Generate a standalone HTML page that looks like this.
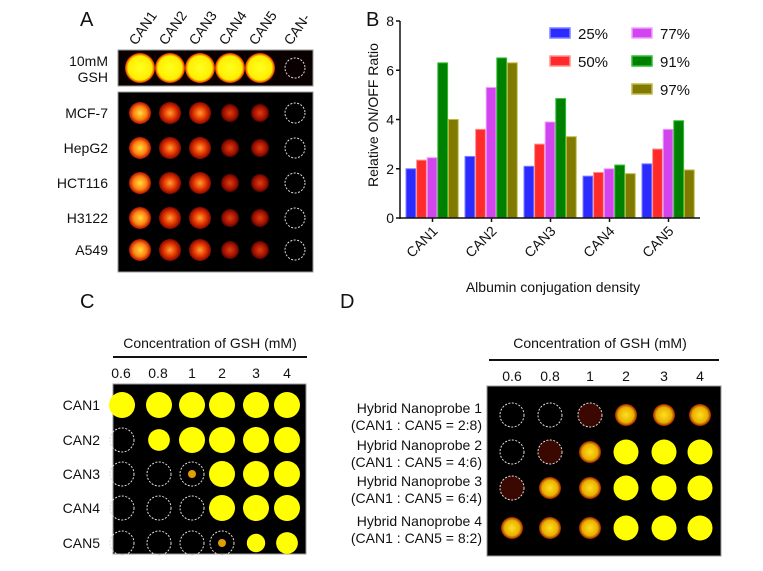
<!DOCTYPE html>
<html><head><meta charset="utf-8"><style>
body{margin:0;background:#fff;width:763px;height:566px;overflow:hidden}
svg text{font-family:"Liberation Sans",Arial,sans-serif;fill:#111}
</style></head><body>
<svg id="fig" width="763" height="566" viewBox="0 0 763 566" xmlns="http://www.w3.org/2000/svg">
<defs>
<radialGradient id="gy"><stop offset="0" stop-color="#ffff20"/><stop offset="0.8" stop-color="#ffee00"/><stop offset="1" stop-color="#e02000"/></radialGradient>
<radialGradient id="gh1"><stop offset="0" stop-color="#ffe040"/><stop offset="0.6" stop-color="#ff8010"/><stop offset="1" stop-color="#b01000"/></radialGradient>
<radialGradient id="gh2"><stop offset="0" stop-color="#ffa030"/><stop offset="0.6" stop-color="#e03000"/><stop offset="1" stop-color="#800800"/></radialGradient>
<radialGradient id="gh3"><stop offset="0" stop-color="#e04010"/><stop offset="0.7" stop-color="#a01000"/><stop offset="1" stop-color="#500400"/></radialGradient>
<radialGradient id="gs"><stop offset="0" stop-color="#ffe020"/><stop offset="0.7" stop-color="#e8b000"/><stop offset="1" stop-color="#a02000"/></radialGradient>
</defs>
<g id="panelA"></g>
<g id="panelB"></g>
<g id="panelC"></g>
<g id="panelD"></g>
</svg>
<script>
const categories = ["CAN1","CAN2","CAN3","CAN4","CAN5"];
const seriesNames = ["25%","50%","77%","91%","97%"];
const s25 = [2.0,2.5,2.1,1.7,2.2];
const s50 = [2.35,3.6,3.0,1.85,2.8];
const s77 = [2.45,5.3,3.9,2.0,3.6];
const s91 = [6.3,6.5,4.85,2.15,3.95];
const s97 = [4.0,6.3,3.3,1.8,1.95];
const yTicks = [0,2,4,6,8];

const NS="http://www.w3.org/2000/svg";
function mk(p,tag,at,txt){const e=document.createElementNS(NS,tag);for(const k in at)e.setAttribute(k,at[k]);if(txt!==undefined)e.textContent=txt;p.appendChild(e);return e;}

// ---------- Panel B ----------
const B=document.getElementById('panelB');
const x0=400,x1=700,yb=218,yt=21;
const yS=v=>yb-(v/8)*(yb-yt);
const groupW=59, barW=10.6, gStart=406;
const colors=["#2b2bff","#ff2a2a","#d244ee","#008000","#807a00"];
const strokes=["#8080ff","#ff9090","#f0a0ff","#30c030","#c0b840"];
const series=[s25,s50,s77,s91,s97];
let t=mk(B,'text',{x:366,y:26,'font-size':20},'B');


series.forEach((s,si)=>{s.forEach((v,ci)=>{
 const x=gStart+ci*groupW+si*barW;
 const r=mk(B,'rect',{x:x,y:yS(v),width:barW-0.8,height:yb-yS(v),fill:colors[si],stroke:strokes[si],'stroke-width':1});
 
 
});});
let ax=mk(B,'line',{x1:x0,y1:yt,x2:x0,y2:yb+1,stroke:'#111','stroke-width':1.5});


ax=mk(B,'line',{x1:x0,y1:yb,x2:x1,y2:yb,stroke:'#111','stroke-width':1.5});


yTicks.forEach(v=>{
 mk(B,'line',{x1:x0-4,y1:yS(v),x2:x0,y2:yS(v),stroke:'#111','stroke-width':1.5});
 const tl=mk(B,'text',{x:x0-6,y:yS(v)+5,'font-size':14,'text-anchor':'end'},String(v));
 
 
});
categories.forEach((c,ci)=>{
 const cx=gStart+ci*groupW+2.5*barW;
 mk(B,'line',{x1:cx,y1:yb,x2:cx,y2:yb+4,stroke:'#111','stroke-width':1.5});
 const tl=mk(B,'text',{x:cx+6,y:yb+14,'font-size':14,'text-anchor':'end',transform:`rotate(-45 ${cx+6} ${yb+14})`},c);
 
 
});
t=mk(B,'text',{x:378,y:115,'font-size':14,'text-anchor':'middle',transform:'rotate(-90 378 115)'},'Relative ON/OFF Ratio');


t=mk(B,'text',{x:553,y:292,'font-size':14,'text-anchor':'middle'},'Albumin conjugation density');


const legPos=[[550,33],[550,61],[632,33],[632,61],[632,89]];
seriesNames.forEach((n,i)=>{
 const g=mk(B,'g',{});
 
 
 mk(g,'rect',{x:legPos[i][0],y:legPos[i][1]-5,width:20,height:10,fill:colors[i],stroke:strokes[i],'stroke-width':1.5});
 mk(g,'text',{x:legPos[i][0]+28,y:legPos[i][1]+6,'font-size':15},n);
});

// ---------- Panel A ----------
const A=document.getElementById('panelA');
t=mk(A,'text',{x:80,y:26,'font-size':20},'A');


const colX=[140,170,200,230,260,295];
const colA=["CAN1","CAN2","CAN3","CAN4","CAN5","CAN-"];
colA.forEach((c,i)=>{const tl=mk(A,'text',{x:colX[i]-4,y:46,'font-size':14,transform:`rotate(-55 ${colX[i]-4} 46)`},c);
 
 });
let im=mk(A,'rect',{x:118,y:50,width:195,height:36,fill:'#0a0000',stroke:'#999'});


for(let i=0;i<5;i++) mk(A,'circle',{cx:colX[i],cy:68,r:15,fill:'url(#gy)'});
mk(A,'circle',{cx:295,cy:68,r:10,fill:'none',stroke:'#ddd','stroke-dasharray':'2 1.5'});
t=mk(A,'text',{x:108,y:66,'font-size':14,'text-anchor':'end'},'10mM');
t=mk(A,'text',{x:108,y:82,'font-size':14,'text-anchor':'end'},'GSH');
im=mk(A,'rect',{x:118,y:92,width:195,height:180,fill:'#000',stroke:'#999'});


const rowsA=["MCF-7","HepG2","HCT116","H3122","A549"];
const rowY=[113,148,183,218,250];
const grads=["gh1","gh2","gh2","gh3","gh3"];
rowsA.forEach((r,ri)=>{
 const tl=mk(A,'text',{x:108,y:rowY[ri]+5,'font-size':14,'text-anchor':'end'},r);
 
 
 for(let i=0;i<5;i++) mk(A,'circle',{cx:colX[i],cy:rowY[ri],r:i<3?11:9,fill:'url(#'+grads[i]+')'});
 mk(A,'circle',{cx:295,cy:rowY[ri],r:10,fill:'none',stroke:'#ddd','stroke-dasharray':'2 1.5'});
});

// ---------- Panel C ----------
const C=document.getElementById('panelC');
t=mk(C,'text',{x:80,y:308,'font-size':20},'C');


mk(C,'text',{x:210,y:348,'font-size':14,'text-anchor':'middle'},'Concentration of GSH (mM)');
mk(C,'line',{x1:113,y1:357,x2:307,y2:357,stroke:'#111','stroke-width':2});
const conc=["0.6","0.8","1","2","3","4"];
const cX=[125,162,192,222,256,287];
const dX=[512,550,590,626,664,700];
conc.forEach((c,i)=>{mk(C,'text',{x:cX[i]+(i<2?-4:0),y:378,'font-size':14,'text-anchor':'middle'},c);});
im=mk(C,'rect',{x:113,y:384,width:193,height:170,fill:'#000',stroke:'#999'});


const cY=[405,440,474,508,543];
const cOn=[[1,1,1,1,1,1],[0,0.7,1,1,1,1],[0,0,0.3,1,1,1],[0,0,0,1,1,1],[0,0,0,0.2,0.5,0.7]];
["CAN1","CAN2","CAN3","CAN4","CAN5"].forEach((r,ri)=>{
 const tl=mk(C,'text',{x:100,y:cY[ri]+5,'font-size':14,'text-anchor':'end'},r);
 
 
 cOn[ri].forEach((v,i)=>{
  const x=cX[i]+(i<2?-3:0);
  if(v>=0.5) mk(C,'circle',{cx:x,cy:cY[ri],r:13*Math.sqrt(v),fill:'#ffff00'});
  else{ mk(C,'circle',{cx:x,cy:cY[ri],r:12,fill:'none',stroke:'#ddd','stroke-dasharray':'2 1.5'});
   if(v>0) mk(C,'circle',{cx:x,cy:cY[ri],r:4,fill:'#e0a000'});}
 });
});

// ---------- Panel D ----------
const D=document.getElementById('panelD');
t=mk(D,'text',{x:340,y:308,'font-size':20},'D');


mk(D,'text',{x:600,y:348,'font-size':14,'text-anchor':'middle'},'Concentration of GSH (mM)');
mk(D,'line',{x1:489,y1:360,x2:719,y2:360,stroke:'#111','stroke-width':2});
conc.forEach((c,i)=>{mk(D,'text',{x:dX[i],y:381,'font-size':14,'text-anchor':'middle'},c);});
im=mk(D,'rect',{x:487,y:386,width:234,height:170,fill:'#000',stroke:'#999'});


const dY=[415,452,488,528];
const dOn=[[0,0,0.1,0.8,0.7,0.7],[0,0.1,0.6,1,1,1],[0.2,0.6,0.8,1,1,1],[0.7,0.6,0.8,1,1,1]];
const dLab=[["Hybrid Nanoprobe 1","(CAN1 : CAN5 = 2:8)"],["Hybrid Nanoprobe 2","(CAN1 : CAN5 = 4:6)"],["Hybrid Nanoprobe 3","(CAN1 : CAN5 = 6:4)"],["Hybrid Nanoprobe 4","(CAN1 : CAN5 = 8:2)"]];
dLab.forEach((l,ri)=>{
 const g=mk(D,'g',{});
 
 
 mk(g,'text',{x:482,y:dY[ri]-2,'font-size':14,'text-anchor':'end'},l[0]);
 mk(g,'text',{x:482,y:dY[ri]+15,'font-size':14,'text-anchor':'end'},l[1]);
 dOn[ri].forEach((v,i)=>{
  if(v>=0.5) mk(D,'circle',{cx:dX[i],cy:dY[ri],r:v>=1?12.5:11,fill:v>=1?'#ffff00':'url(#gs)'});
  else{ mk(D,'circle',{cx:dX[i],cy:dY[ri],r:12,fill:v>0?'#3a0800':'none',stroke:'#ddd','stroke-dasharray':'2 1.5'});}
 });
});
</script>
</body></html>
